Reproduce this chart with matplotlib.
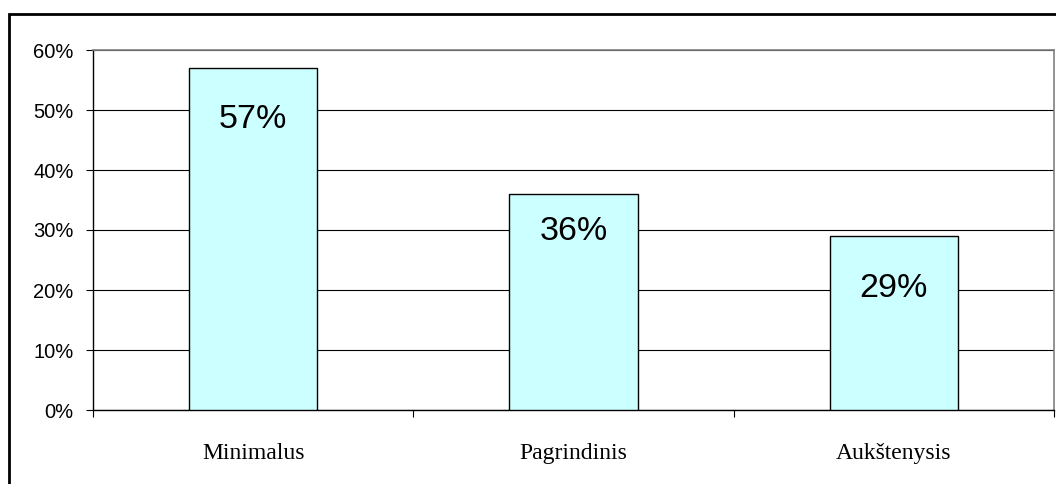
import matplotlib.pyplot as plt
from matplotlib.patches import Rectangle
from matplotlib.ticker import FixedLocator, PercentFormatter

# education level shares
categories = ['Minimalus', 'Pagrindinis', 'Aukštenysis']
shares = [57, 36, 29]
label_drop = [37, 27, 38]   # label offset below bar top, in points

fig = plt.figure(figsize=(10.56, 4.84), dpi=100)
ax = fig.add_axes([93 / 1056, 1 - 410 / 484, 961 / 1056, 360 / 484])

x = range(len(categories))
bars = ax.bar(x, shares, width=0.4, color='#CCFFFF', edgecolor='black',
              linewidth=1.0, zorder=3)

for rect, val, drop in zip(bars, shares, label_drop):
    ax.annotate(f'{val}%', (rect.get_x() + rect.get_width() / 2, val),
                xytext=(0, -drop), textcoords='offset points',
                ha='center', va='center', fontsize=24.5,
                family='Liberation Sans', zorder=4)

ax.set_xlim(-0.5, 2.5)
ax.set_ylim(0, 60)
ax.set_yticks(range(0, 61, 10))
ax.yaxis.set_major_formatter(PercentFormatter(decimals=0))
ax.yaxis.grid(True, color='black', linewidth=0.8, zorder=1)

ax.set_xticks(list(x))
ax.set_xticklabels(categories, family='Liberation Serif', fontsize=17)
ax.xaxis.set_minor_locator(FixedLocator([-0.5, 0.5, 1.5, 2.5]))
ax.tick_params(axis='x', which='major', length=0, pad=23.5)
ax.tick_params(axis='x', which='minor', length=5, width=0.8, direction='out')
ax.tick_params(axis='y', length=5, width=0.8, pad=9, labelsize=14.5)
for lab in ax.get_yticklabels():
    lab.set_family('Liberation Sans')

for side in ('left', 'bottom'):
    ax.spines[side].set_color('black')
    ax.spines[side].set_linewidth(1.0)
for side in ('top', 'right'):
    ax.spines[side].set_color('#808080')
    ax.spines[side].set_linewidth(1.2)

# outer chart frame
fig.patches.append(Rectangle((9 / 1056, -0.1), 1.2, 1 - 13.5 / 484 + 0.1,
                             transform=fig.transFigure, fill=False,
                             edgecolor='black', linewidth=2))

fig.savefig('out.png', dpi=100)
